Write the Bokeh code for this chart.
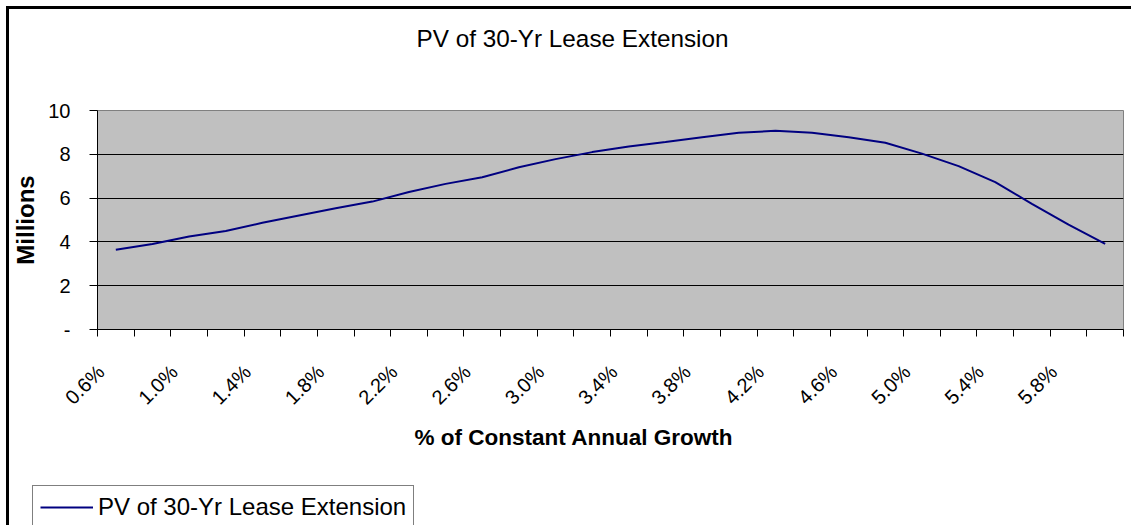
from bokeh.plotting import figure
from bokeh.layouts import column
from bokeh.models import FixedTicker, Title, Legend, LegendItem, Range1d
from bokeh.embed import file_html
from bokeh.resources import INLINE

# ---- data ----
categories = ["0.6%", "0.8%", "1.0%", "1.2%", "1.4%", "1.6%", "1.8%", "2.0%",
              "2.2%", "2.4%", "2.6%", "2.8%", "3.0%", "3.2%", "3.4%", "3.6%",
              "3.8%", "4.0%", "4.2%", "4.4%", "4.6%", "4.8%", "5.0%", "5.2%",
              "5.4%", "5.6%", "5.8%", "6.0%"]
pv_millions = [3.64, 3.90, 4.25, 4.50, 4.87, 5.21, 5.54, 5.84, 6.28, 6.65,
               6.95, 7.41, 7.78, 8.10, 8.36, 8.56, 8.78, 8.98, 9.07, 8.98,
               8.78, 8.53, 8.03, 7.46, 6.73, 5.74, 4.79, 3.91]
y_ticks = [0, 2, 4, 6, 8, 10]
y_tick_labels = ["-", "2", "4", "6", "8", "10"]
series_name = "PV of 30-Yr Lease Extension"
chart_title = "PV of 30-Yr Lease Extension"
x_title = "% of Constant Annual Growth"
y_title = "Millions"

FONT = "Liberation Sans"
n = len(categories)
idx = list(range(n))
label_idx = idx[::2]
LABEL_SHIFT = 0.41  # rotated labels sit a little left of the category centre

p = figure(width=1122, height=476, output_backend="svg", toolbar_location=None,
           x_range=Range1d(-0.5, n - 0.5), y_range=Range1d(0, 10),
           min_border_left=88, min_border_right=8, min_border_top=101,
           min_border_bottom=156, title=chart_title)

p.background_fill_color = "#c0c0c0"
p.border_fill_color = "white"
p.outline_line_color = "#808080"
p.outline_line_width = 1

# real title (outer), spacer title next to the frame
p.title.text_font = FONT
p.title.text_font_size = "24.3px"
p.title.text_font_style = "normal"
p.title.text_color = "black"
p.title.align = "left"
p.title.offset = 319
p.title.standoff = 0
spacer = Title(text=" ", text_font=FONT, text_font_size="24px", standoff=30)
p.add_layout(spacer, "above")

# x axis
xa = p.xaxis[0]
tick_pos = [i - LABEL_SHIFT for i in label_idx]
xa.ticker = FixedTicker(ticks=tick_pos, minor_ticks=[i - 0.5 for i in range(n + 1)])
xa.major_label_overrides = {t: categories[i] for t, i in zip(tick_pos, label_idx)}
xa.major_tick_out = 0
xa.major_tick_in = 0
xa.minor_tick_out = 7
xa.minor_tick_in = 0
xa.minor_tick_line_color = "black"
xa.axis_line_color = "black"
xa.major_label_orientation = 0.785398
xa.major_label_standoff = 32
xa.major_label_text_font = FONT
xa.major_label_text_font_size = "20px"
xa.major_label_text_color = "black"

# y axis
ya = p.yaxis[0]
ya.ticker = FixedTicker(ticks=y_ticks, minor_ticks=[])
ya.major_label_overrides = {t: l for t, l in zip(y_ticks, y_tick_labels)}
ya.major_tick_out = 8
ya.major_tick_in = 0
ya.major_tick_line_color = "black"
ya.axis_line_color = "black"
ya.major_label_standoff = 19
ya.major_label_text_font = FONT
ya.major_label_text_font_size = "20px"
ya.major_label_text_color = "black"
ya.axis_label = y_title
ya.axis_label_text_font = FONT
ya.axis_label_text_font_size = "24px"
ya.axis_label_text_font_style = "bold"
ya.axis_label_text_color = "black"
ya.axis_label_standoff = 6

# grid
p.xgrid.visible = False
p.ygrid.ticker = FixedTicker(ticks=y_ticks[1:])
p.ygrid.grid_line_color = "black"
p.ygrid.grid_line_width = 1

# x axis title as a below title
xt = Title(text=x_title, align="left", offset=317, text_font=FONT,
           text_font_size="22.5px", text_font_style="bold", text_color="black",
           standoff=6)
p.add_layout(xt, "below")

p.line(idx, pv_millions, line_color="#000080", line_width=2)

# legend figure (separate so that the legend box is not clipped by the plot frame)
p_leg = figure(width=440, height=40, output_backend="svg", toolbar_location=None,
               x_axis_type=None, y_axis_type=None, min_border=0,
               x_range=Range1d(-0.5, n - 0.5), y_range=Range1d(0, 10))
p_leg.outline_line_color = None
p_leg.background_fill_color = "white"
p_leg.border_fill_color = "white"
p_leg.margin = (0, 0, 0, 23)
for fig in (p, p_leg):
    if "frame_align" in fig.properties():
        fig.frame_align = False
r_leg = p_leg.line(idx, pv_millions, line_color="#000080", line_width=2,
                   visible=False)
legend = Legend(items=[LegendItem(label=series_name, renderers=[r_leg])],
                location="top_left", label_text_font=FONT,
                label_text_font_size="24px", label_text_color="black",
                glyph_width=53, label_standoff=5,
                padding=7, spacing=0, border_line_color="black",
                border_line_width=1, background_fill_color="white",
                background_fill_alpha=1.0, margin=0)
p_leg.add_layout(legend)

layout = column(p, p_leg, spacing=0)
layout.margin = (6, 0, 0, 6)
layout.styles = {"border-left": "3px solid black", "border-top": "3px solid black"}

open("out.html", "w").write(file_html(layout, INLINE))
